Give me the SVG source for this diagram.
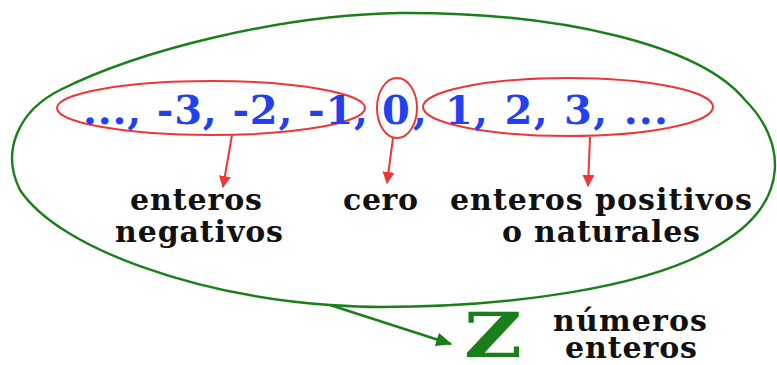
<svg xmlns="http://www.w3.org/2000/svg" width="777" height="365" viewBox="0 0 777 365">
<defs>
<style>
.grn{fill:none;stroke:#1a7f1a;stroke-width:2.4}
.red{fill:none;stroke:#ee3636;stroke-width:2}
.num{font-family:"DejaVu Serif",serif;font-weight:bold;font-size:40px;fill:#2240f0}
.lbl{font-family:"DejaVu Serif",serif;font-weight:bold;font-size:30px;fill:#111}
.z{font-family:"DejaVu Serif",serif;font-weight:bold;font-size:62px;fill:#1a7f1a}
</style>
<marker id="ar" viewBox="0 0 12 12" refX="11" refY="6" markerWidth="12" markerHeight="12" markerUnits="userSpaceOnUse" orient="auto">
<path d="M0,0 L12,6 L0,12 Z" fill="#ee3636"/>
</marker>
<marker id="ag" viewBox="0 0 14 12" refX="13" refY="6" markerWidth="16" markerHeight="14" markerUnits="userSpaceOnUse" orient="auto">
<path d="M0,0 L14,6 L0,12 Z" fill="#1a7f1a"/>
</marker>
</defs>
<rect width="777" height="365" fill="#fff"/>
<g id="conjunto">
<path class="grn" d="M330 305 C200 296 60 250 20 190 C0 150 20 110 60 90 C140 50 280 15 400 13 C560 12 700 45 745 100 C785 140 792 200 722 243 C650 290 500 307 380 307 C360 307 345 306 330 305 Z"/>
</g>
<g id="negativos">
<ellipse class="red" cx="211" cy="108" rx="154" ry="27"/>
<text class="num" x="83" y="124" textLength="285" lengthAdjust="spacing">..., -3, -2, -1,</text>
<text class="lbl" x="196" y="210" text-anchor="middle" textLength="132" lengthAdjust="spacing">enteros</text>
<text class="lbl" x="199" y="242" text-anchor="middle" textLength="168" lengthAdjust="spacing">negativos</text>
</g>
<g id="cero">
<ellipse class="red" cx="397" cy="108" rx="20" ry="30"/>
<text class="num" x="382" y="124" textLength="45" lengthAdjust="spacing">0,</text>
<text class="lbl" x="343" y="210" textLength="75" lengthAdjust="spacing">cero</text>
</g>
<g id="positivos">
<ellipse class="red" cx="568" cy="107" rx="145" ry="29"/>
<text class="num" x="445" y="124" textLength="223" lengthAdjust="spacing">1, 2, 3, ...</text>
<text class="lbl" x="450" y="210" textLength="302" lengthAdjust="spacing">enteros positivos</text>
<text class="lbl" x="502" y="242" textLength="198" lengthAdjust="spacing">o naturales</text>
</g>
<g id="Z">
<text class="z" x="464" y="357" textLength="58" lengthAdjust="spacingAndGlyphs">Z</text>
<text class="lbl" x="553" y="331" textLength="154" lengthAdjust="spacing">números</text>
<text class="lbl" x="565" y="358" textLength="132" lengthAdjust="spacing">enteros</text>
</g>
<g id="connectors">
<line class="red" x1="232" y1="135" x2="223" y2="187" marker-end="url(#ar)"/>
<line class="red" x1="393" y1="138" x2="387" y2="183" marker-end="url(#ar)"/>
<line class="red" x1="590" y1="137" x2="588" y2="186" marker-end="url(#ar)"/>
<line class="grn" x1="330" y1="305" x2="451" y2="344" marker-end="url(#ag)"/>
</g>
</svg>
